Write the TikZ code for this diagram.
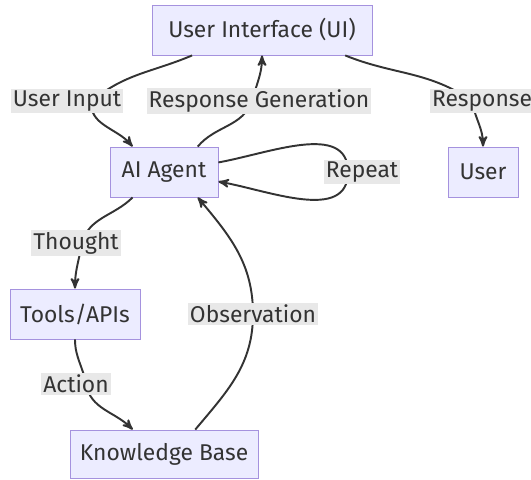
\documentclass[tikz,border=0pt]{standalone}
\usepackage{fontspec}
\setmainfont{Fira Sans}
\usetikzlibrary{positioning, arrows}
\definecolor{boxfill}{HTML}{ECECFF}
\definecolor{boxline}{HTML}{A592DE}
\definecolor{lblfill}{HTML}{E8E8E8}
\definecolor{ink}{HTML}{333333}
\tikzset{
>=stealth', % filled arrow heads
block/.style={draw=boxline, fill=boxfill, line width=0.5pt, inner sep=0pt,
  minimum height=1cm, text=ink, font=\fontsize{13}{15}\selectfont}, % the boxes
lbl/.style={fill=lblfill, text=ink, inner sep=1.2pt, font=\fontsize{13}{15}\selectfont}, % edge labels
link/.style={->, draw=ink, line width=1.1pt}, % the connectors
}

\begin{document}
\begin{tikzpicture}[x=0.02cm, y=-0.02cm]
    \useasboundingbox (0,0) rectangle (531,480);
    % boxes
    \node[block, minimum width=4.4cm] (ui) at (262,30) {User Interface (UI)};
    \node[block, minimum width=2.16cm] (ai) at (164,172) {AI Agent};
    \node[block, minimum width=1.4cm] (user) at (483,172) {User};
    \node[block, minimum width=2.6cm] (tools) at (75,314) {Tools/APIs};
    \node[block, minimum width=3.76cm, minimum height=0.96cm] (kb) at (164,454) {Knowledge Base};
    % points the curves pass through
    \coordinate (pInput) at (92,101);
    \coordinate (pGen) at (252,101);
    \coordinate (pResp) at (472,101);
    \coordinate (pRepeat) at (348,172);
    \coordinate (pThought) at (82,243);
    \coordinate (pAction) at (86,384);
    \coordinate (pObs) at (253,314);
    % connectors
    \draw[link] (ui.200) to[out=203, in=40] (pInput) to[out=-100, in=130] (ai.141);
    \draw[link] (ai.37) to[out=50, in=-110] (pGen) to[out=75, in=-90] (ui.south);
    \draw[link] (ui.-17) to[out=-22, in=145] (pResp) to[out=-80, in=90] (user.north);
    \draw[link] (ai.10) to[out=10, in=90] (pRepeat) to[out=-90, in=-10] (ai.-10);
    \draw[link] (ai.-141) to[out=-135, in=75] (pThought) to[out=-100, in=90] (tools.north);
    \draw[link] (tools.south) to[out=-90, in=100] (pAction) to[out=-80, in=135] (kb.142);
    \draw[link] (kb.38) to[out=50, in=-90] (pObs) to[out=90, in=-50] (ai.-37);
    % edge labels
    \node[lbl] (lInput) at (67,101) {User Input};
    \node[lbl] (lGen) at (259,101) {Response Generation};
    \node[lbl] (lResp) at (482,101) {Response};
    \node[lbl] (lRepeat) at (362,172) {Repeat};
    \node[lbl] (lThought) at (76,243) {Thought};
    \node[lbl] (lAction) at (76,384) {Action};
    \node[lbl] (lObs) at (253,314) {Observation};
\end{tikzpicture}
\end{document}
